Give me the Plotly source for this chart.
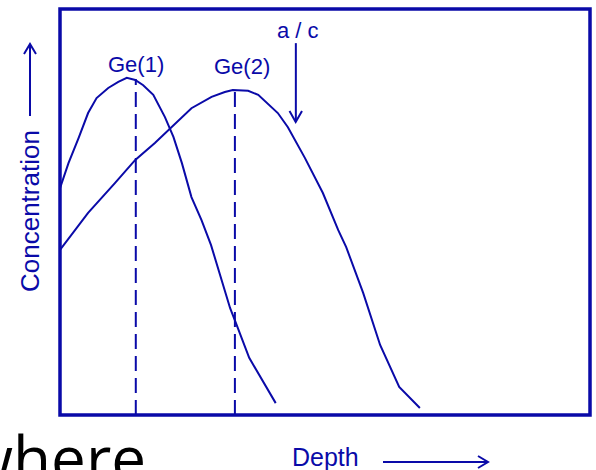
import plotly.graph_objects as go

# ---- data (depth and concentration in arbitrary units, 0-100) ----
ge1_depth = [0, 1.6, 3.5, 5.3, 6.9, 9.1, 11.0, 12.6, 14.2, 15.7, 17.6, 19.8, 21.4,
             23.0, 24.8, 26.7, 28.5, 30.3, 32.1, 33.2, 35.7, 40.7]
ge1_conc = [55.4, 61.6, 67.8, 74.0, 77.7, 80.2, 81.7, 82.7, 82.2, 80.9, 78.5, 73.0, 68.1,
            61.6, 53.2, 47.5, 41.3, 33.4, 25.7, 22.0, 13.4, 2.2]

ge2_depth = [0, 5.3, 10.4, 14.2, 17.9, 20.8, 24.8, 28.6, 31.1, 32.6, 35.5, 37.4, 41.1,
             43.0, 46.2, 49.6, 52.5, 54.0, 57.2, 60.4, 64.0, 67.9]
ge2_conc = [40.1, 49.3, 56.7, 62.4, 66.6, 70.3, 75.2, 78.0, 79.2, 79.7, 79.5, 78.5, 74.0,
            70.5, 62.9, 54.2, 45.0, 40.8, 29.5, 16.6, 6.2, 1.0]

peak_labels = ["Ge(1)", "Ge(2)"]
peak_depths = [14.3, 33.0]
peak_concs = [82.4, 79.7]
label_depths = [14.3, 34.4]
label_concs = [85.9, 85.6]

ac_label = "a / c"
ac_depth = 44.5
ac_conc_top = 91.3
ac_conc_bottom = 71.8

x_label = "Depth"
y_label = "Concentration"
caption = "where"

X_RANGE = [0, 100]
Y_RANGE = [-0.74, 99.75]

BLUE = "#0a0aa8"
FONT = "Liberation Sans"

W, H = 596, 470
ML, MR, MT, MB = 60, 6, 9, 55
PW, PH = W - ML - MR, H - MT - MB


def px(x):  # pixel -> paper x
    return (x - ML) / PW


def py(y):  # pixel -> paper y
    return (H - MB - y) / PH


fig = go.Figure()

fig.add_trace(go.Scatter(x=ge1_depth, y=ge1_conc, mode="lines",
                         line=dict(color=BLUE, width=2), hoverinfo="skip"))
fig.add_trace(go.Scatter(x=ge2_depth, y=ge2_conc, mode="lines",
                         line=dict(color=BLUE, width=2), hoverinfo="skip"))

for d, c in zip(peak_depths, peak_concs):
    fig.add_trace(go.Scatter(x=[d, d], y=[Y_RANGE[0], c], mode="lines",
                             line=dict(color=BLUE, width=2, dash="15px,7px"),
                             hoverinfo="skip"))

# a/c arrow
fig.add_trace(go.Scatter(x=[ac_depth, ac_depth], y=[ac_conc_top, ac_conc_bottom],
                         mode="lines", line=dict(color=BLUE, width=2), hoverinfo="skip"))

annotations = []
for lab, d, c in zip(peak_labels, label_depths, label_concs):
    annotations.append(dict(x=d, y=c, xref="x", yref="y", text=lab, showarrow=False,
                            xanchor="center", yanchor="middle",
                            font=dict(family=FONT, size=22, color=BLUE)))
annotations.append(dict(x=ac_depth + 0.4, y=ac_conc_top + 3.1, xref="x", yref="y",
                        text=ac_label, showarrow=False, xanchor="center", yanchor="middle",
                        font=dict(family=FONT, size=22, color=BLUE)))
annotations.append(dict(x=px(30), y=py(211), xref="paper", yref="paper", text=y_label,
                        textangle=-90, showarrow=False, xanchor="center", yanchor="middle",
                        font=dict(family=FONT, size=26, color=BLUE)))
annotations.append(dict(x=px(325), y=py(457), xref="paper", yref="paper", text=x_label,
                        showarrow=False, xanchor="center", yanchor="middle",
                        font=dict(family=FONT, size=25, color=BLUE)))
annotations.append(dict(x=px(148), y=py(457), xref="paper", yref="paper", text=caption,
                        xanchor="right", yanchor="middle", showarrow=False,
                        font=dict(family="Open Sans", size=62, color="black")))

shapes = [
    # frame
    dict(type="rect", xref="paper", yref="paper", x0=0, x1=1, y0=0, y1=1,
         line=dict(color=BLUE, width=3.5)),
    # a/c arrow head
    dict(type="path", xref="paper", yref="paper",
         path=f"M {px(289.5)} {py(111)} L {px(295.7)} {py(122)} L {px(302)} {py(111)}",
         line=dict(color=BLUE, width=2)),
    # concentration arrow
    dict(type="path", xref="paper", yref="paper",
         path=(f"M {px(30)} {py(116)} L {px(30)} {py(44)} "
               f"M {px(24)} {py(54)} L {px(30)} {py(44)} L {px(36)} {py(54)}"),
         line=dict(color=BLUE, width=2)),
    # depth arrow
    dict(type="path", xref="paper", yref="paper",
         path=(f"M {px(383)} {py(462)} L {px(488)} {py(462)} "
               f"M {px(478)} {py(456)} L {px(488)} {py(462)} L {px(478)} {py(468)}"),
         line=dict(color=BLUE, width=2)),
]

fig.update_layout(
    width=W, height=H,
    margin=dict(l=ML, r=MR, t=MT, b=MB, pad=0),
    paper_bgcolor="white", plot_bgcolor="white",
    showlegend=False,
    xaxis=dict(range=X_RANGE, showgrid=False, zeroline=False, showticklabels=False,
               ticks="", showline=False, fixedrange=True),
    yaxis=dict(range=Y_RANGE, showgrid=False, zeroline=False, showticklabels=False,
               ticks="", showline=False, fixedrange=True),
    annotations=annotations,
    shapes=shapes,
)

fig.write_html("out.html", config={"displayModeBar": False})
